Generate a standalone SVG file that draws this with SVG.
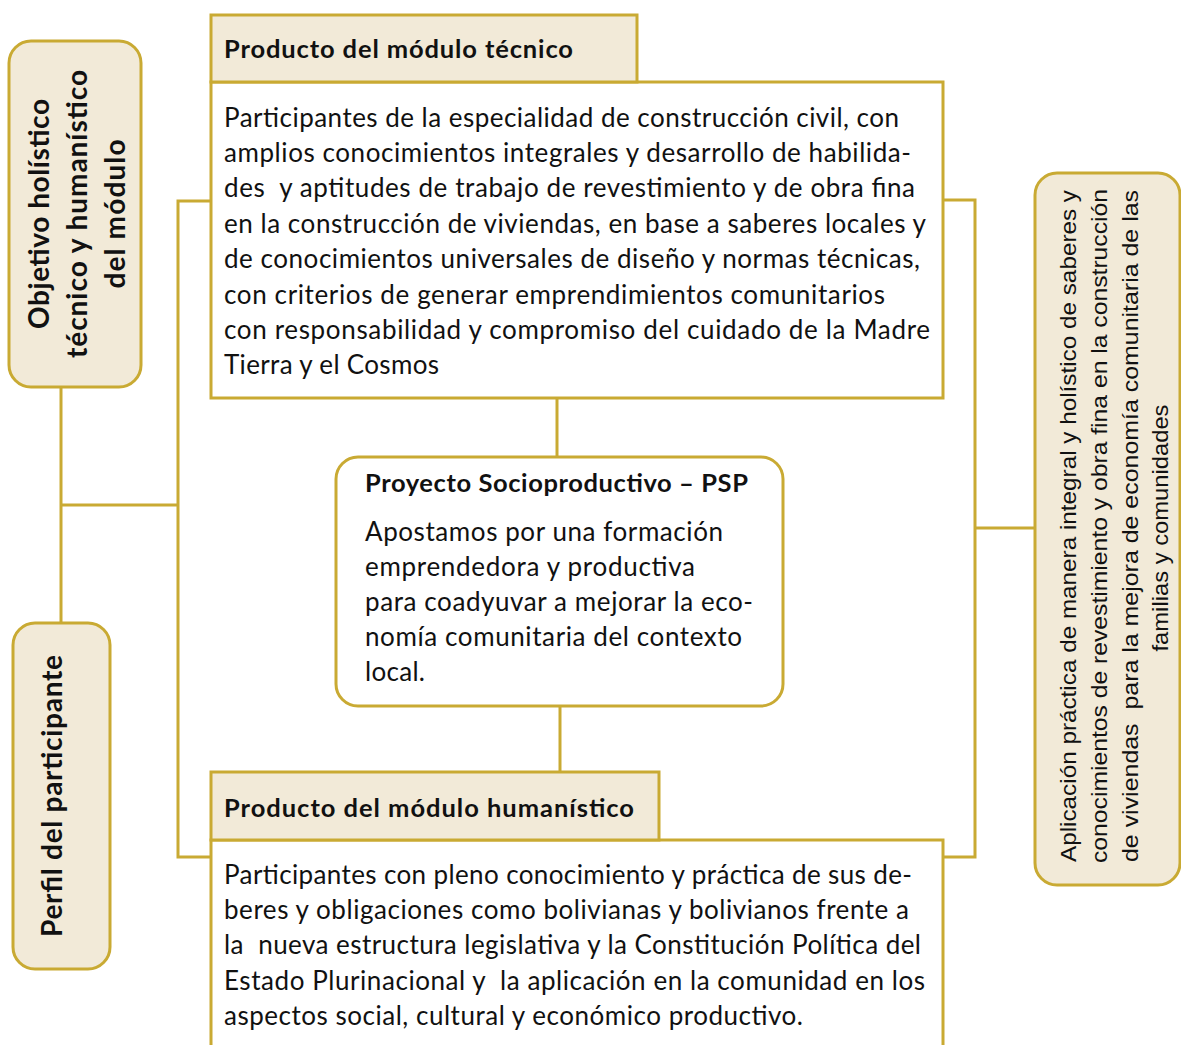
<svg xmlns="http://www.w3.org/2000/svg" width="1181" height="1045" viewBox="0 0 1181 1045">
<style>
.box{fill:#F2EAD8;stroke:#C9AA33;stroke-width:3}
.wbox{fill:#FFFFFF;stroke:#C9AA33;stroke-width:3}
.con{fill:none;stroke:#C9AA33;stroke-width:3}
.t{font-family:Lato,"Open Sans",sans-serif;font-size:26px;fill:#111}
.b{font-family:Lato,"Open Sans",sans-serif;font-size:25.5px;font-weight:bold;fill:#111}
.vb{font-family:Lato,"Open Sans",sans-serif;font-size:28px;font-weight:bold;fill:#111}
.n{font-family:"Liberation Sans",Arial,sans-serif;font-size:22px;fill:#111}
</style>
<rect width="1181" height="1045" fill="#FFFFFF"/>
<g id="connectors">
<path class="con" d="M61 388 V623"/>
<path class="con" d="M61 505 H178"/>
<path class="con" d="M211 201 H178 V857 H211"/>
<path class="con" d="M943 200 H975 V857 H943"/>
<path class="con" d="M975 528 H1035"/>
<path class="con" d="M557 398 V457"/>
<path class="con" d="M560 706 V772"/>
</g>
<g id="objetivo">
<rect class="box" x="9" y="41" width="132" height="346" rx="22"/>
<text class="vb" text-anchor="middle" transform="translate(49,214) rotate(-90)" textLength="230">Objetivo holístico</text>
<text class="vb" text-anchor="middle" transform="translate(87,214) rotate(-90)" textLength="288">técnico y humanístico</text>
<text class="vb" text-anchor="middle" transform="translate(125,214) rotate(-90)" textLength="149">del módulo</text>
</g>
<g id="perfil">
<rect class="box" x="13" y="623" width="97" height="346" rx="22"/>
<text class="vb" text-anchor="middle" transform="translate(62,796) rotate(-90)" textLength="282">Perfil del participante</text>
</g>
<g id="producto-tecnico">
<rect class="wbox" x="211" y="82" width="732" height="316"/>
<rect class="box" x="211" y="15" width="426" height="67"/>
<text class="b" x="224" y="58" textLength="349">Producto del módulo técnico</text>
<text class="t" x="224" y="127" textLength="675">Participantes de la especialidad de construcción civil, con</text>
<text class="t" x="224" y="162" textLength="687">amplios conocimientos integrales y desarrollo de habilida-</text>
<text class="t" x="224" y="197" textLength="691" xml:space="preserve">des  y aptitudes de trabajo de revestimiento y de obra fina</text>
<text class="t" x="224" y="233" textLength="702">en la construcción de viviendas, en base a saberes locales y</text>
<text class="t" x="224" y="268" textLength="696">de conocimientos universales de diseño y normas técnicas,</text>
<text class="t" x="224" y="304" textLength="661">con criterios de generar emprendimientos comunitarios</text>
<text class="t" x="224" y="339" textLength="706">con responsabilidad y compromiso del cuidado de la Madre</text>
<text class="t" x="224" y="374" textLength="215">Tierra y el Cosmos</text>
</g>
<g id="psp">
<rect class="wbox" x="336" y="457" width="447" height="249" rx="22"/>
<text class="b" x="365" y="492" textLength="383">Proyecto Socioproductivo – PSP</text>
<text class="t" x="365" y="541" textLength="358">Apostamos por una formación</text>
<text class="t" x="365" y="576" textLength="330">emprendedora y productiva</text>
<text class="t" x="365" y="611" textLength="388">para coadyuvar a mejorar la eco-</text>
<text class="t" x="365" y="646" textLength="377">nomía comunitaria del contexto</text>
<text class="t" x="365" y="681" textLength="60">local.</text>
</g>
<g id="producto-humanistico">
<rect class="wbox" x="211" y="840" width="732" height="230"/>
<rect class="box" x="211" y="772" width="448" height="68"/>
<text class="b" x="224" y="817" textLength="410">Producto del módulo humanístico</text>
<text class="t" x="224" y="884" textLength="688">Participantes con pleno conocimiento y práctica de sus de-</text>
<text class="t" x="224" y="919" textLength="685">beres y obligaciones como bolivianas y bolivianos frente a</text>
<text class="t" x="224" y="954" textLength="697" xml:space="preserve">la  nueva estructura legislativa y la Constitución Política del</text>
<text class="t" x="224" y="990" textLength="701" xml:space="preserve">Estado Plurinacional y  la aplicación en la comunidad en los</text>
<text class="t" x="224" y="1025" textLength="579">aspectos social, cultural y económico productivo.</text>
</g>
<g id="aplicacion">
<rect class="box" x="1035" y="173" width="145" height="712" rx="22"/>
<text class="n" text-anchor="middle" transform="translate(1076,526) rotate(-90)" textLength="672" lengthAdjust="spacingAndGlyphs">Aplicación práctica de manera integral y holístico de saberes y</text>
<text class="n" text-anchor="middle" transform="translate(1107,526) rotate(-90)" textLength="674" lengthAdjust="spacingAndGlyphs">conocimientos de revestimiento y obra fina en la construcción</text>
<text class="n" text-anchor="middle" transform="translate(1138,526) rotate(-90)" textLength="672" lengthAdjust="spacingAndGlyphs" xml:space="preserve">de viviendas  para la mejora de economía comunitaria de las</text>
<text class="n" text-anchor="middle" transform="translate(1168,528) rotate(-90)" textLength="247" lengthAdjust="spacingAndGlyphs">familias y comunidades</text>
</g>
</svg>
